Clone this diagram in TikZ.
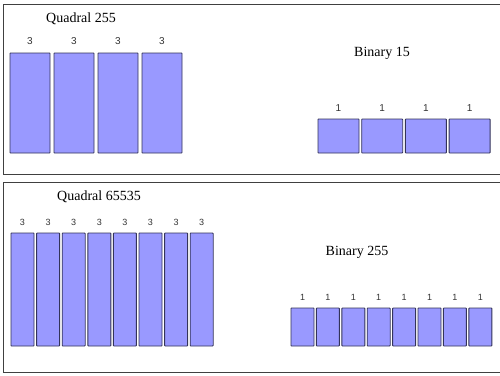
\documentclass[tikz,border=0pt]{standalone}
\usepackage{fontspec}
\setmainfont{Liberation Serif}
\setsansfont{Liberation Sans}
\begin{document}
\begin{tikzpicture}[x=1pt,y=-1pt,
  cell/.style={draw=black!75!blue!60!gray, line width=0.9pt, fill=cellblue, rounded corners=0.6pt},
  title/.style={font=\fontsize{14}{16}\selectfont, inner sep=0pt},
  bitlbl/.style={font=\sffamily\fontsize{10}{12}\selectfont, text=black!80, inner sep=0pt},
  bitlbls/.style={font=\sffamily\fontsize{9}{11}\selectfont, text=black!80, inner sep=0pt},
  panel/.style={draw=black!75, line width=1pt}]
\definecolor{cellblue}{HTML}{9999FF}
\useasboundingbox (0,0) rectangle (500,375);
\fill[white] (0,0) rectangle (500,375);
% panels
\coordinate (p1a) at (501,4);
\coordinate (p1b) at (3,4);
\coordinate (p1c) at (3,174);
\coordinate (p1d) at (501,174);
\draw[panel] (p1a) -- (p1b) -- (p1c) -- (p1d);
\coordinate (p2a) at (501,182);
\coordinate (p2b) at (3,182);
\coordinate (p2c) at (3,372);
\coordinate (p2d) at (501,372);
\draw[panel] (p2a) -- (p2b) -- (p2c) -- (p2d);
% top-left: Quadral 255
\node[title] (t1) at (81,19) {Quadral 255};
\foreach \i in {0,...,3}{
  \pgfmathsetmacro{\xa}{10+44*\i}
  \draw[cell] (\xa,53) rectangle ++(40,100);
  \node[bitlbl] (q1l\i) at (\xa+20,41.5) {3};
}
% top-right: Binary 15
\node[title] (t2) at (382,53) {Binary 15};
\foreach \i in {0,...,3}{
  \pgfmathsetmacro{\xa}{318+43.7*\i}
  \draw[cell] (\xa,119) rectangle ++(41,34);
  \node[bitlbl] (b1l\i) at (\xa+20.5,108) {1};
}
% bottom-left: Quadral 65535
\node[title] (t3) at (99,197) {Quadral 65535};
\foreach \i in {0,...,7}{
  \pgfmathsetmacro{\xa}{11+25.6*\i}
  \draw[cell] (\xa,233) rectangle ++(23,113);
  \node[bitlbls] (q2l\i) at (\xa+11.5,222.5) {3};
}
% bottom-right: Binary 255
\node[title] (t4) at (357,252) {Binary 255};
\foreach \i in {0,...,7}{
  \pgfmathsetmacro{\xa}{291+25.4*\i}
  \draw[cell] (\xa,308) rectangle ++(23,38);
  \node[bitlbls] (b2l\i) at (\xa+11.5,297.5) {1};
}
\end{tikzpicture}
\end{document}
